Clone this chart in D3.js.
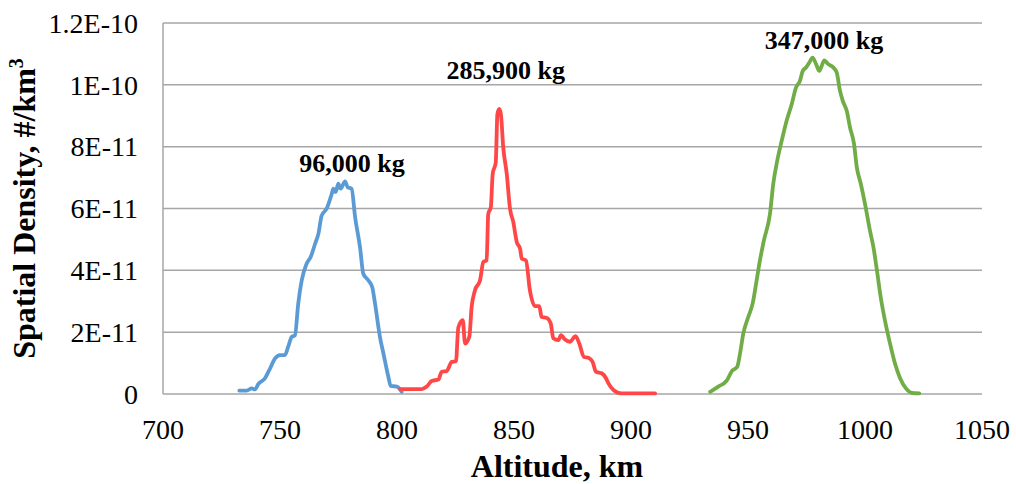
<!DOCTYPE html>
<meta charset="utf-8">
<style>
body { margin: 0; background: #fff; }
svg text { font-family: "Liberation Serif", "Times New Roman", serif; fill: #000; }
.grid line { stroke: #a6a6a6; stroke-width: 1.5px; }
.tick-label { font-size: 28px; }
.axis-title { font-size: 32px; font-weight: bold; }
.peak-label { font-size: 26px; font-weight: bold; }
.curve { fill: none; stroke-width: 3.8px; stroke-linejoin: round; stroke-linecap: round; }
</style>
<body>
<svg id="chart" width="1016" height="484"></svg>
<script src="https://d3js.org/d3.v7.min.js"></script>
<script>
// altitude in km, spatial density in units of 1E-11 #/km^3
var blueAlt  = [732.6,735.8,737.9,739.3,740.7,743.6,745.4,747.9,750,752.1,753.5,755,756.4,757.8,759.3,761.4,763.1,765,766.4,767.8,769.9,772.1,772.8,773.8,774.9,775.9,777.8,778.9,780.6,782.1,784.2,785.6,787.7,789.4,790.6,792.7,794.2,796.3,797.3,799.9,801.3,802];
var blueDens = [0.11,0.11,0.18,0.15,0.32,0.51,0.77,1.15,1.26,1.26,1.53,1.85,1.90,2.93,3.68,4.22,4.43,4.86,5.18,5.77,5.99,6.47,6.64,6.53,6.80,6.64,6.88,6.69,6.64,5.72,4.75,3.89,3.68,3.46,2.93,1.85,1.31,0.56,0.26,0.24,0.15,0.07];

var redAlt  = [801.3,810.6,812.7,814.8,817.7,819.1,821.2,823.4,825.2,826.2,828.1,829.1,830.9,831.9,833.3,835.5,836.9,838.3,839,840.1,840.9,842.2,842.9,843.7,844.4,845.4,846.9,848.3,849.7,851.2,852.6,853.3,855.1,856.8,859,860.8,861.8,864,865.7,866.8,868.9,870.1,871.8,873.9,876.3,877.9,879.9,881.8,883.6,885,887.5,889.3,890.3,892.5,896,910.3];
var redDens = [0.16,0.16,0.24,0.42,0.47,0.72,0.74,1.04,1.06,2.15,2.39,1.63,1.85,2.82,3.35,3.68,4.27,4.32,5.83,6.04,7.12,7.49,9.05,9.22,9.05,7.98,7.12,5.99,5.56,4.91,4.70,4.38,4.32,3.35,2.84,2.84,2.49,2.46,2.28,1.80,1.74,1.90,1.76,1.69,1.87,1.63,1.20,1.17,1.04,0.72,0.67,0.51,0.35,0.13,0.02,0.02];

var greenAlt  = [933.8,937.3,940.9,943.1,945.4,946.6,948,950.1,952,953.7,955.1,956.8,959.4,960.8,962.5,964.4,966.5,968.7,970.5,972.2,973.4,974.8,976.2,977.6,979.1,980.5,981.5,982.6,984.3,986.2,987.9,989.3,990.5,992.2,993.6,995.3,996.5,998.2,1000,1002.1,1003.6,1005.3,1006.7,1008.5,1010.7,1012.8,1015,1017.5,1019.9,1023.2];
var greenDens = [0.07,0.24,0.43,0.74,0.88,1.31,1.96,2.49,2.93,3.68,4.32,4.97,5.83,6.80,7.55,8.19,8.84,9.38,9.91,10.13,10.45,10.56,10.72,10.88,10.67,10.45,10.61,10.79,10.67,10.58,10.40,9.81,9.48,9.16,8.62,8.09,7.33,6.80,6.15,5.29,4.75,3.89,3.14,2.39,1.63,0.99,0.51,0.18,0.04,0.02];

var xTicks = [700,750,800,850,900,950,1000,1050];
var yTicks = [0,2,4,6,8,10,12];
var yTickLabels = ["0","2E-11","4E-11","6E-11","8E-11","1E-10","1.2E-10"];

var peakLabels = ["96,000 kg","285,900 kg","347,000 kg"];
var peakLabelAlt = [780.8, 846.5, 982.5];
var peakLabelDens = [7.19, 10.19, 11.16];

var seriesColors = ["#5b9bd5", "#ff4747", "#70ad47"];

var margin = {top: 23, right: 34, bottom: 90, left: 163},
    width  = 1016 - margin.left - margin.right,
    height = 484 - margin.top - margin.bottom;

var svg = d3.select('#chart')
  .append('g')
    .attr('transform', 'translate(' + margin.left + ',' + margin.top + ')');

var xScale = d3.scaleLinear().domain([700, 1050]).range([0, width]);
var yScale = d3.scaleLinear().domain([0, 12]).range([height, 0]);

// horizontal gridlines
svg.append('g').attr('class', 'grid')
  .selectAll('line').data(yTicks).enter().append('line')
    .attr('x1', 0).attr('x2', width)
    .attr('y1', function(d) { return yScale(d); })
    .attr('y2', function(d) { return yScale(d); });

// left axis line
svg.append('g').attr('class', 'grid').append('line')
  .attr('x1', 0).attr('x2', 0)
  .attr('y1', yScale(12)).attr('y2', yScale(0));

// y tick labels
svg.selectAll('.ylab').data(yTicks).enter().append('text')
  .attr('class', 'tick-label')
  .attr('x', -25)
  .attr('y', function(d) { return yScale(d); })
  .attr('dy', '0.35em')
  .attr('text-anchor', 'end')
  .text(function(d, i) { return yTickLabels[i]; });

// x tick labels
svg.selectAll('.xlab').data(xTicks).enter().append('text')
  .attr('class', 'tick-label')
  .attr('x', function(d) { return xScale(d); })
  .attr('y', height + 45)
  .attr('text-anchor', 'middle')
  .text(function(d) { return d; });

// curves
var line = d3.line()
  .x(function(d) { return xScale(d[0]); })
  .y(function(d) { return yScale(d[1]); })
  .curve(d3.curveMonotoneX);

var series = [
  d3.zip(blueAlt, blueDens),
  d3.zip(redAlt, redDens),
  d3.zip(greenAlt, greenDens)
];

series.forEach(function(s, i) {
  svg.append('path')
    .datum(s)
    .attr('class', 'curve')
    .attr('stroke', seriesColors[i])
    .attr('d', line);
});

// peak labels
svg.selectAll('.peak').data(peakLabels).enter().append('text')
  .attr('class', 'peak-label')
  .attr('x', function(d, i) { return xScale(peakLabelAlt[i]); })
  .attr('y', function(d, i) { return yScale(peakLabelDens[i]); })
  .attr('text-anchor', 'middle')
  .text(function(d) { return d; });

// axis titles
d3.select('#chart').append('text')
  .attr('class', 'axis-title')
  .attr('x', 557).attr('y', 477)
  .attr('text-anchor', 'middle')
  .text('Altitude, km');

var yTitle = d3.select('#chart').append('text')
  .attr('class', 'axis-title')
  .attr('transform', 'translate(35,' + (margin.top + height / 2) + ') rotate(-90)')
  .attr('text-anchor', 'middle');
yTitle.append('tspan').text('Spatial Density, #/km');
yTitle.append('tspan').attr('dy', -12).style('font-size', '20px').text('3');
</script>
</body>
